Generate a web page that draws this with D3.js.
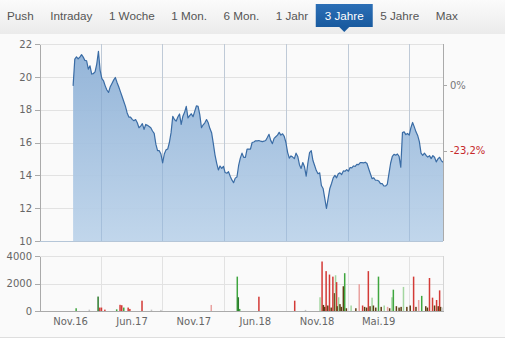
<!DOCTYPE html>
<html>
<head>
<meta charset="utf-8">
<script src="https://cdn.jsdelivr.net/npm/d3@7"></script>
<style>
  body { margin: 0; background: #f9f9f9; }
  #chart { width: 505px; height: 347px; }
  .axis text { font-family: "DejaVu Sans", Verdana, sans-serif; font-size: 10px; fill: #666; }
  .axis path, .axis line { stroke: #aaa; shape-rendering: crispEdges; }
  .grid line { stroke: #e2e2e2; shape-rendering: crispEdges; }
  .tab { font-family: "Liberation Sans", Arial, sans-serif; font-size: 11.7px; fill: #555; }
</style>
</head>
<body>
<div id="chart"></div>
<script>
var tabs = ["Push", "Intraday", "1 Woche", "1 Mon.", "6 Mon.", "1 Jahr", "3 Jahre", "5 Jahre", "Max"],
    activeTab = "3 Jahre";

// price series: one close every 5 days starting at priceStart
var priceStart = "2016-10-10", priceStepDays = 5;
var prices = [
  19.45, 21.08, 21.22, 21.1, 21.2, 21.35, 21.2, 21.0, 20.98, 20.47,
  20.67, 20.17, 20.2, 20.3, 20.78, 21.55, 20.4, 19.9, 19.76, 19.45,
  19.2, 19.05, 19.4, 19.6, 19.8, 19.96, 19.66, 19.4, 19.1, 18.8,
  18.5, 18.2, 17.8, 17.55, 17.55, 17.41, 17.33, 17.4, 17.2, 16.9,
  17.0, 17.15, 16.8, 17.1, 17.05, 16.98, 16.9, 16.7, 16.56, 15.9,
  15.5, 15.5, 15.3, 14.76, 15.3, 15.55, 15.6, 16.0, 16.6, 17.6,
  17.4, 17.3, 17.55, 17.74, 17.1, 17.6, 17.84, 18.2, 17.5, 17.64,
  17.75, 17.57, 17.9, 18.23, 18.2, 17.7, 16.9, 17.08, 17.2, 17.4,
  17.2, 16.85, 16.6, 15.95, 15.25, 14.75, 14.33, 14.57, 14.42, 14.55,
  14.17, 14.13, 14.22, 13.95, 13.72, 13.55, 13.83, 13.9, 14.6, 15.05,
  15.35, 15.1, 15.1, 15.6, 15.6, 15.6, 16.0, 16.03, 16.1, 16.1,
  16.12, 16.08, 16.05, 16.08, 16.12, 16.3, 16.5, 16.13, 15.93, 16.25,
  16.35, 16.45, 16.62, 16.45, 16.53, 16.37, 16.0, 15.4, 15.05, 15.18,
  15.11, 15.02, 15.35, 15.15, 14.65, 14.42, 14.78, 14.52, 13.95, 14.75,
  15.38, 15.5, 14.9, 14.6, 14.29, 14.1, 14.15, 13.38, 13.2, 12.6,
  11.98, 12.6, 13.2, 13.5, 13.85, 14.0, 13.85, 14.1, 14.15, 14.05,
  14.27, 14.25, 14.35, 14.25, 14.48, 14.45, 14.57, 14.55, 14.67, 14.65,
  14.77, 14.77, 14.76, 14.8, 14.72, 14.4, 14.1, 13.8, 13.85, 13.7,
  13.7, 13.65, 13.5, 13.5, 13.35, 13.35, 13.45, 14.1, 14.75, 15.15,
  15.28, 15.23, 15.3, 15.15, 14.5, 16.6, 16.65, 16.48, 16.55, 16.45,
  16.9, 17.22, 16.95, 16.65, 16.43, 16.05, 15.35, 15.22, 15.35, 15.21,
  15.11, 15.2, 15.02, 15.2, 15.1, 14.82, 15.0, 15.1, 14.9, 14.8
];

// volume bars
var volDates = [
  "2016-10-19", "2016-11-27", "2016-12-23", "2016-12-28", "2017-01-02", "2017-01-12",
  "2017-02-16", "2017-02-26", "2017-03-03", "2017-03-09", "2017-03-22", "2017-03-27",
  "2017-05-02", "2017-05-30", "2017-06-27", "2017-11-23", "2018-02-08", "2018-02-11",
  "2018-02-15", "2018-04-13", "2018-07-28", "2018-08-29", "2018-10-11", "2018-10-17",
  "2018-10-21", "2018-10-25", "2018-10-29", "2018-11-03", "2018-11-08", "2018-11-13",
  "2018-11-18", "2018-11-23", "2018-11-26", "2018-11-29", "2018-12-01", "2018-12-05",
  "2018-12-09", "2018-12-13", "2018-12-19", "2018-12-23", "2018-12-28", "2019-01-11",
  "2019-01-25", "2019-02-04", "2019-02-14", "2019-02-20", "2019-02-26", "2019-03-03",
  "2019-03-08", "2019-03-14", "2019-03-18", "2019-03-25", "2019-04-02", "2019-04-10",
  "2019-04-19", "2019-04-29", "2019-05-05", "2019-05-12", "2019-05-16", "2019-05-25",
  "2019-06-02", "2019-06-08", "2019-06-15", "2019-06-25", "2019-07-05", "2019-07-15",
  "2019-07-22", "2019-07-30", "2019-08-08", "2019-08-20", "2019-08-25", "2019-08-31",
  "2019-09-09", "2019-09-15", "2019-09-21", "2019-09-26", "2019-09-30", "2019-10-03",
  "2019-10-07"
];
var volValues = [
  200, 100, 1050, 250, 250, 100,
  120, 450, 420, 250, 250, 150,
  750, 100, 80, 440, 2500, 1000,
  150, 1040, 750, 80, 1000, 3600,
  440, 300, 2900, 400, 2650, 250,
  2500, 1300, 2600, 2100, 350, 1000,
  500, 300, 1800, 2750, 200, 400,
  200, 1950, 400, 300, 250, 2900,
  350, 970, 400, 250, 2500, 300,
  400, 300, 200, 1000, 1550, 350,
  250, 300, 1750, 300, 400, 2500,
  300, 800, 1100, 350, 250, 2400,
  970, 400, 800, 350, 1500, 300,
  250
];
var volKinds = [
  "g", "n", "dg", "r", "r", "r",
  "g", "r", "r", "g", "r", "r",
  "r", "n", "n", "lr", "g", "dg",
  "g", "r", "r", "n", "lg", "r",
  "d", "d", "r", "d", "r", "d",
  "r", "d", "lg", "r", "d", "lg",
  "d", "d", "d", "g", "d", "lg",
  "d", "lr", "r", "d", "d", "r",
  "d", "lg", "d", "d", "g", "d",
  "lg", "lr", "d", "lg", "g", "d",
  "d", "d", "lg", "d", "d", "r",
  "d", "lr", "g", "d", "d", "r",
  "r", "d", "r", "d", "r", "d",
  "n"
];

var priceTicks = [10, 12, 14, 16, 18, 20, 22],
    volTicks = [0, 2000, 4000],
    pctValues = [19.5, 15.5],
    pctLabels = ["0%", "-23,2%"],
    xLabelDates = ["2016-10-01", "2017-04-01", "2017-10-01", "2018-04-01", "2018-10-01", "2019-04-01"],
    xLabels = ["Nov.16", "Jun.17", "Nov.17", "Jun.18", "Nov.18", "Mai.19"],
    gridDates = ["2017-01-01", "2017-07-01", "2018-01-01", "2018-07-01", "2019-01-01", "2019-07-01"],
    xDomain = ["2016-07-04", "2019-10-10"];

var kindColor = {
  r: "#d33a36", lr: "#e9a2a0", g: "#3fa63f", lg: "#a3d6a0",
  dg: "#2d7a2d", d: "#5e3d12", n: "#c4c4c4"
};

var width = 505, height = 347;
var plot = {left: 40, right: 443, top: 44, bottom: 241},
    vol = {top: 256, bottom: 311};

var parse = d3.timeParse("%Y-%m-%d");
var t0 = parse(priceStart);
var priceData = prices.map(function(p, i) {
  return {date: d3.timeDay.offset(t0, i * priceStepDays), value: p};
});
var volData = volDates.map(function(d, i) {
  return {date: parse(d), value: volValues[i], kind: volKinds[i]};
});

var svg = d3.select("#chart").append("svg")
    .attr("width", width)
    .attr("height", height);

var defs = svg.append("defs");
var hg = defs.append("linearGradient").attr("id", "hdr").attr("x1", 0).attr("y1", 0).attr("x2", 0).attr("y2", 1);
hg.append("stop").attr("offset", "0%").attr("stop-color", "#fbfbfb");
hg.append("stop").attr("offset", "100%").attr("stop-color", "#ebebeb");
var tg = defs.append("linearGradient").attr("id", "tabsel").attr("x1", 0).attr("y1", 0).attr("x2", 0).attr("y2", 1);
tg.append("stop").attr("offset", "0%").attr("stop-color", "#2c6fb6");
tg.append("stop").attr("offset", "100%").attr("stop-color", "#185a9f");
var ag = defs.append("linearGradient").attr("id", "area").attr("gradientUnits", "userSpaceOnUse")
    .attr("x1", 0).attr("y1", plot.top).attr("x2", 0).attr("y2", plot.bottom);
ag.append("stop").attr("offset", "0%").attr("stop-color", "#8aaed5");
ag.append("stop").attr("offset", "100%").attr("stop-color", "#bcd3ea");

// header with tabs
svg.append("rect").attr("x", 0).attr("y", 0).attr("width", width).attr("height", 34).attr("fill", "url(#hdr)");
svg.append("rect").attr("x", 0).attr("y", 34).attr("width", width).attr("height", 303).attr("fill", "#fafafa");
svg.append("rect").attr("x", 0).attr("y", 337).attr("width", width).attr("height", 10).attr("fill", "#ffffff");
svg.append("line").attr("x1", 0).attr("x2", width).attr("y1", 337.5).attr("y2", 337.5).attr("stroke", "#dedede");

var tabG = svg.append("g");
var tx = 7;
tabs.forEach(function(t) {
  var txt = tabG.append("text").attr("class", "tab").attr("x", tx).attr("y", 20).text(t);
  var w = txt.node().getComputedTextLength();
  if (t === activeTab) {
    tabG.insert("rect", "text").attr("x", tx - 9).attr("y", 4).attr("width", w + 18).attr("height", 23).attr("fill", "url(#tabsel)");
    tabG.insert("path", "text").attr("d", "M" + (tx + w / 2 - 5) + ",27L" + (tx + w / 2) + ",32L" + (tx + w / 2 + 5) + ",27Z").attr("fill", "#185a9f");
    txt.style("fill", "#fff");
  }
  tx += w + 16.5;
});

var x = d3.scaleTime().domain(xDomain.map(parse)).range([plot.left, plot.right]);
var y = d3.scaleLinear().domain([10, 22]).range([plot.bottom, plot.top]);
var yv = d3.scaleLinear().domain([0, 4000]).range([vol.bottom, vol.top]);

// grids
svg.append("g").attr("class", "grid")
  .selectAll("line").data(priceTicks.slice(1)).enter().append("line")
    .attr("x1", plot.left).attr("x2", plot.right)
    .attr("y1", function(d) { return Math.round(y(d)) + 0.5; })
    .attr("y2", function(d) { return Math.round(y(d)) + 0.5; });
svg.append("g").attr("class", "grid")
  .selectAll("line").data(volTicks.slice(1)).enter().append("line")
    .attr("x1", plot.left).attr("x2", plot.right)
    .attr("y1", function(d) { return Math.round(yv(d)) + 0.5; })
    .attr("y2", function(d) { return Math.round(yv(d)) + 0.5; });
svg.append("g").attr("class", "grid")
  .selectAll("line").data(gridDates.map(parse)).enter().append("line")
    .attr("x1", function(d) { return Math.round(x(d)) + 0.5; })
    .attr("x2", function(d) { return Math.round(x(d)) + 0.5; })
    .attr("y1", plot.top).attr("y2", plot.bottom);
svg.append("g").attr("class", "grid")
  .selectAll("line").data(gridDates.map(parse)).enter().append("line")
    .attr("x1", function(d) { return Math.round(x(d)) + 0.5; })
    .attr("x2", function(d) { return Math.round(x(d)) + 0.5; })
    .attr("y1", vol.top).attr("y2", vol.bottom);
svg.append("line").attr("x1", plot.right + 0.5).attr("x2", plot.right + 0.5)
    .attr("y1", vol.top).attr("y2", vol.bottom).attr("stroke", "#d5d5d5");

// price area + line
var area = d3.area()
    .x(function(d) { return x(d.date); })
    .y0(plot.bottom)
    .y1(function(d) { return y(d.value); });
var line = d3.line()
    .x(function(d) { return x(d.date); })
    .y(function(d) { return y(d.value); });

svg.append("path").datum(priceData).attr("d", area).attr("fill", "url(#area)").attr("fill-opacity", 0.92);
svg.append("g").attr("class", "grid")
  .selectAll("line").data(gridDates.map(parse)).enter().append("line")
    .attr("x1", function(d) { return Math.round(x(d)) + 0.5; })
    .attr("x2", function(d) { return Math.round(x(d)) + 0.5; })
    .attr("y1", plot.top).attr("y2", plot.bottom)
    .style("stroke", "#7f9fc3").style("stroke-opacity", 0.35);
svg.append("path").datum(priceData).attr("d", line)
    .attr("fill", "none").attr("stroke", "#3a6ca5").attr("stroke-width", 1.2).attr("stroke-linejoin", "round");

// volume bars
svg.append("g").selectAll("rect").data(volData).enter().append("rect")
    .attr("x", function(d) { return x(d.date) - 0.75; })
    .attr("width", 1.5)
    .attr("y", function(d) { return yv(d.value); })
    .attr("height", function(d) { return vol.bottom - yv(d.value); })
    .attr("fill", function(d) { return kindColor[d.kind]; });

// axes
svg.append("g").attr("class", "axis")
    .attr("transform", "translate(" + plot.left + ",0)")
    .call(d3.axisLeft(y).tickValues(priceTicks).tickSize(5).tickSizeOuter(0).tickPadding(3));
svg.append("g").attr("class", "axis")
    .attr("transform", "translate(" + plot.right + ",0)")
    .call(d3.axisRight(y).tickValues(pctValues).tickSize(4).tickSizeOuter(0).tickPadding(3)
      .tickFormat(function(d, i) { return pctLabels[i]; }))
  .call(function(g) {
    g.select(".domain").attr("d", "M0.5," + plot.top + "V" + plot.bottom);
    g.selectAll("text").style("fill", function(d, i) { return i === 1 ? "#c6282b" : "#777"; });
  });
svg.append("line").attr("x1", plot.left).attr("x2", plot.right)
    .attr("y1", plot.bottom + 0.5).attr("y2", plot.bottom + 0.5).attr("stroke", "#b5c6d8");

svg.append("g").attr("class", "axis")
    .attr("transform", "translate(" + plot.left + ",0)")
    .call(d3.axisLeft(yv).tickValues(volTicks).tickSize(5).tickSizeOuter(0).tickPadding(3)
      .tickFormat(d3.format("d")));
svg.append("g").attr("class", "axis")
    .attr("transform", "translate(0," + vol.bottom + ")")
    .call(d3.axisBottom(x).tickValues(xLabelDates.map(parse)).tickSize(0).tickSizeOuter(0).tickPadding(7)
      .tickFormat(function(d, i) { return xLabels[i]; }));
</script>
</body>
</html>
